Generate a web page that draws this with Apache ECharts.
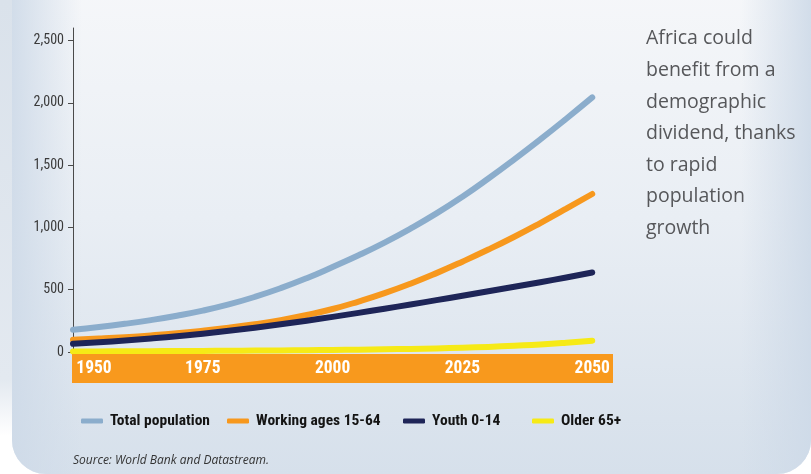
<!DOCTYPE html>
<html>
<head>
<meta charset="utf-8">
<script src="https://cdn.jsdelivr.net/npm/echarts@6/dist/echarts.min.js"></script>
<style>
html,body{margin:0;padding:0;background:#ffffff;}
#chart{width:811px;height:474px;}
</style>
</head>
<body>
<div id="chart"></div>
<script>
// ---- data ----
var years = [1950,1955,1960,1965,1970,1975,1980,1985,1990,1995,2000,2005,2010,2015,2020,2025,2030,2035,2040,2045,2050];
var totalPopulation = [178,200,226,256,291,332,382,442,512,592,682,776,878,990,1112,1246,1392,1546,1706,1872,2043];
var workingAges = [99,108,119,133,150,171,195,223,256,297,345,405,472,548,633,725,822,925,1035,1150,1268];
var youth = [66,78,92,108,126,147,170,195,222,251,282,314,347,381,416,452,488,524,560,598,638];
var older = [4,5,6,7,8,9,10,12,13,15,17,19,22,25,29,34,41,50,60,74,91];
var seriesNames = ['Total population','Working ages 15-64','Youth 0-14','Older 65+'];
var xTickLabels = [1950,1975,2000,2025,2050];
var yTickValues = [0,500,1000,1500,2000,2500];
var sideText = ['Africa could','benefit from a','demographic','dividend, thanks','to rapid','population','growth'];
var sourceText = 'Source: World Bank and Datastream.';

var colors = ['#8badcc','#f7981d','#1e2558','#f6ea16'];

// ---- find a condensed font if one is installed ----
var ctx = document.createElement('canvas').getContext('2d');
function w(font, s){ ctx.font = font; return ctx.measureText(s).width; }
var probe = 'Total population 2,500 mmWWil';
var cands = [
  {fam:"'Roboto Condensed'", st:''},
  {fam:"'Noto Sans Condensed'", st:''},
  {fam:"'Open Sans Condensed'", st:''},
  {fam:"'Liberation Sans Narrow'", st:''},
  {fam:"'DejaVu Sans Condensed'", st:''},
  {fam:"'Noto Sans'", st:'condensed'},
  {fam:"'Open Sans'", st:'condensed'},
  {fam:"'DejaVu Sans'", st:'condensed'},
  {fam:"Roboto", st:'condensed'}
];
var narrow = {fam:"Roboto, 'Liberation Sans', sans-serif", st:'normal'};
for (var i=0;i<cands.length;i++){
  var c = cands[i], ok;
  if (!c.st) {
    ok = w('bold 40px monospace', probe) !== w('bold 40px ' + c.fam + ', monospace', probe) ||
         w('bold 40px serif', probe) !== w('bold 40px ' + c.fam + ', serif', probe);
  } else {
    ok = w(c.st + ' bold 40px ' + c.fam + ', monospace', probe) < w('bold 40px ' + c.fam + ', monospace', probe) - 2;
  }
  if (ok) { narrow = {fam: c.fam + ", Roboto, sans-serif", st: c.st || 'normal'}; break; }
}
function fitSize(weight, text, target, lo, hi){
  var base = w(narrow.st + ' ' + weight + ' 20px ' + narrow.fam, text);
  var s = 20 * target / base;
  return Math.max(lo, Math.min(hi, Math.round(s*2)/2));
}
var legendSize = fitSize('bold', 'Working ages 15-64', 126, 12, 17);
var yLabelSize = Math.max(13, fitSize('normal', '2,500', 30, 11, 15));
var xLabelSize = Math.max(16, fitSize('bold', '2050', 35, 13, 18));

function pairs(vals){ return years.map(function(y,i){ return [y, vals[i]]; }); }
var allVals = [totalPopulation, workingAges, youth, older];

var chart = echarts.init(document.getElementById('chart'), null, {renderer:'canvas'});

var series = seriesNames.map(function(n,i){
  return {
    name: n, type: 'line', smooth: true, showSymbol: false, symbol: 'none',
    data: pairs(allVals[i]), z: 2,
    lineStyle: {color: colors[i], width: 6, cap: 'round', join: 'round'},
    itemStyle: {color: colors[i]},
    emphasis: {disabled: true}, silent: true
  };
});

var legendLefts = [76, 222, 398, 527];
var legends = seriesNames.map(function(n,i){
  return {
    data: [n], left: legendLefts[i], top: 408, orient: 'horizontal',
    icon: 'roundRect', itemWidth: 22, itemHeight: 5, itemGap: 7,
    selectedMode: false,
    textStyle: {fontFamily: narrow.fam, fontStyle: narrow.st, fontWeight: 'bold', fontSize: legendSize, color: '#141414', padding: [0,0,0,2]}
  };
});

var option = {
  animation: false,
  backgroundColor: 'transparent',
  grid: {left: 73, right: 198, top: 28, bottom: 122, containLabel: false},
  xAxis: {
    type: 'value', min: 1950, max: 2054, interval: 25, z: 10,
    axisLine: {show: false}, axisTick: {show: false}, splitLine: {show: false},
    axisLabel: {
      customValues: xTickLabels,
      color: '#ffffff', fontFamily: narrow.fam, fontStyle: narrow.st, fontWeight: 'bold', fontSize: xLabelSize, margin: 8,
      formatter: function(v){ return v === 1950 ? '{first|' + v + '}' : String(v); },
      rich: {first: {color:'#ffffff', fontFamily: narrow.fam, fontStyle: narrow.st, fontWeight:'bold', fontSize: xLabelSize, padding:[0,0,0,42]}}
    }
  },
  yAxis: {
    type: 'value', min: 0, max: 2600, interval: 500,
    axisLine: {show: true, lineStyle: {color: '#4a4a4a', width: 1}},
    axisTick: {show: true, length: 5, customValues: yTickValues, lineStyle: {color: '#4a4a4a'}},
    splitLine: {show: false},
    axisLabel: {
      customValues: yTickValues, margin: 9,
      color: '#3a3a3a', fontFamily: narrow.fam, fontStyle: narrow.st, fontSize: yLabelSize,
      formatter: function(v){ return v.toLocaleString('en-US'); }
    }
  },
  legend: legends,
  series: series,
  graphic: [
    {type:'rect', z:-10, silent:true, shape:{x:0,y:0,width:811,height:474},
      style:{fill:new echarts.graphic.LinearGradient(0,0,0,1,[
        {offset:0,color:'#dae2eb'},{offset:0.8,color:'#e3e9f0'},{offset:0.92,color:'#ffffff'},{offset:1,color:'#ffffff'}])}},
    {type:'rect', z:-9, silent:true, shape:{x:12,y:-40,width:799,height:514,r:[0,0,34,34]},
      style:{fill:new echarts.graphic.LinearGradient(0,0,0,1,[
        {offset:0,color:'#f7f8fa'},{offset:0.5,color:'#e9eef4'},{offset:1,color:'#d6e0eb'}])}},
    {type:'rect', z:-8, silent:true, shape:{x:12,y:-40,width:70,height:514,r:[0,0,0,34]},
      style:{fill:new echarts.graphic.LinearGradient(0,0,1,0,[
        {offset:0,color:'rgba(206,218,232,0.9)'},{offset:1,color:'rgba(206,218,232,0)'}])}},
    {type:'rect', z:-8, silent:true, shape:{x:741,y:-40,width:70,height:514,r:[0,0,34,0]},
      style:{fill:new echarts.graphic.LinearGradient(0,0,1,0,[
        {offset:0,color:'rgba(206,218,232,0)'},{offset:1,color:'rgba(206,218,232,0.9)'}])}},
    {type:'rect', z:5, silent:true, shape:{x:72,y:354,width:541,height:29},
      style:{fill:'#f8991d'}},
    {type:'text', z:5, silent:true, left:646, top:23,
      style:{text: sideText.join('\n'), fill:'#56575a', font:"19.5px 'Open Sans', Lato, sans-serif", lineHeight:31.6}},
    {type:'text', z:5, silent:true, left:73, top:455,
      style:{text: sourceText, fill:'#333333', font:"italic 12px 'Open Sans', Lato, sans-serif"}}
  ]
};
chart.setOption(option);
</script>
</body>
</html>
